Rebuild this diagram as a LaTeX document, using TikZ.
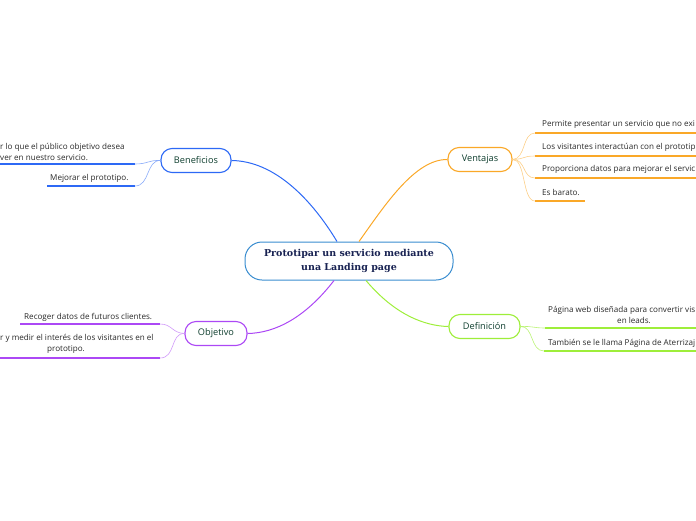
\documentclass[tikz,border=0pt]{standalone}
\usepackage{fontspec}
\setmainfont{Open Sans}
\newfontfamily\titlefont{DejaVu Serif}
\usetikzlibrary{positioning}
\definecolor{centralblue}{RGB}{58,141,208}
\definecolor{titlenavy}{RGB}{24,34,82}
\definecolor{labelgreen}{RGB}{14,62,46}
\definecolor{benblue}{RGB}{45,105,245}
\definecolor{ventorange}{RGB}{250,168,40}
\definecolor{objpurple}{RGB}{172,72,245}
\definecolor{defgreen}{RGB}{158,238,58}
\definecolor{itemgray}{RGB}{40,40,40}

\begin{document}
\begin{tikzpicture}[x=1pt, y=-1pt, font=\fontsize{8.1}{11}\selectfont]
\tikzstyle{topic}=[rounded corners=11pt, draw, line width=1.1pt, fill=white, minimum height=24pt, text=labelgreen, font=\fontsize{9.2}{11}\selectfont]
\tikzstyle{item}=[anchor=west, inner sep=0pt, text=itemgray, align=left]
\tikzstyle{branch}=[line width=1pt]
\tikzstyle{twig}=[line width=0.6pt]
\tikzstyle{rule}=[line width=1.6pt]
\useasboundingbox (0,0) rectangle (696,520);
\clip (0,0) rectangle (696,520);
% central topic
\node[rounded corners=17pt, draw=centralblue, line width=1pt, fill=white, minimum width=208pt, minimum height=38pt, align=center, text=titlenavy, font=\titlefont\bfseries\fontsize{9.5}{14}\selectfont] (main) at (349,261) {Prototipar un servicio mediante\\una Landing page};
% main topics
\node[topic, draw=benblue, minimum width=70pt] (ben) at (196,160.5) {Beneficios};
\node[topic, draw=ventorange, minimum width=64pt] (vent) at (480,159.5) {Ventajas};
\node[topic, draw=objpurple, minimum width=62pt] (obj) at (216,333.5) {Objetivo};
\node[topic, draw=defgreen, minimum width=71pt] (def) at (484.5,326.5) {Definición};
\draw[branch, benblue] (main.north west -| 337,0) .. controls (312,200) and (275,161) .. (ben.east);
\draw[branch, ventorange] (main.north west -| 359,0) .. controls (385,205) and (415,159) .. (vent.west);
\draw[branch, objpurple] (main.south west -| 334,0) .. controls (305,318) and (275,333) .. (obj.east);
\draw[branch, defgreen] (main.south west -| 366,0) .. controls (395,315) and (425,326) .. (def.west);
% Beneficios
\node[item] (ben1) at (0,152) {r lo que el público objetivo desea\\ver en nuestro servicio.};
\node[item] (ben2) at (50,178) {Mejorar el prototipo.};
\coordinate (ben1a) at (0,164);
\coordinate (ben1b) at (135,164);
\coordinate (ben2a) at (47,186);
\coordinate (ben2b) at (135,186);
\draw[rule, benblue] (ben1a) -- (ben1b);
\draw[rule, benblue] (ben2a) -- (ben2b);
\draw[twig, benblue!55] (ben.west) .. controls (148,160) and (148,164) .. (ben1b);
\draw[twig, benblue!55] (ben.west) .. controls (146,160) and (150,186) .. (ben2b);
% Ventajas
\node[item] (vent1) at (542,124) {Permite presentar un servicio que no exi};
\node[item] (vent2) at (542,147) {Los visitantes interactúan con el prototip};
\node[item] (vent3) at (542,169) {Proporciona datos para mejorar el servic};
\node[item] (vent4) at (542,192) {Es barato.};
\foreach \i/\y/\e in {1/133/696,2/156/696,3/178/696,4/201/585}{
  \coordinate (vent\i a) at (535,\y);
  \coordinate (vent\i b) at (\e,\y);
  \draw[rule, ventorange] (vent\i a) -- (vent\i b);
  \draw[twig, ventorange!55] (vent.east) .. controls (526,159) and (522,\y) .. (vent\i a);
}
% Objetivo
\node[item] (obj1) at (24,317) {Recoger datos de futuros clientes.};
\node[item] (obj2) at (0,343.5) {r y medir el interés de los visitantes en el\\\hspace*{47pt}prototipo.};
\coordinate (obj1a) at (20,324);
\coordinate (obj1b) at (160,324);
\coordinate (obj2a) at (0,358);
\coordinate (obj2b) at (160,358);
\draw[rule, objpurple] (obj1a) -- (obj1b);
\draw[rule, objpurple] (obj2a) -- (obj2b);
\draw[twig, objpurple!55] (obj.west) .. controls (172,333) and (172,324) .. (obj1b);
\draw[twig, objpurple!55] (obj.west) .. controls (170,333) and (176,358) .. (obj2b);
% Definición
\node[item] (def1) at (548,315) {Página web diseñada para convertir vis\\\hspace*{69pt}en leads.};
\node[item] (def2) at (548,343) {También se le llama Página de Aterrizaj};
\coordinate (def1a) at (545,328);
\coordinate (def1b) at (696,328);
\coordinate (def2a) at (544,351);
\coordinate (def2b) at (696,351);
\draw[rule, defgreen] (def1a) -- (def1b);
\draw[rule, defgreen] (def2a) -- (def2b);
\draw[twig, defgreen!70] (def.east) .. controls (533,326) and (533,328) .. (def1a);
\draw[twig, defgreen!70] (def.east) .. controls (534,326) and (530,351) .. (def2a);
\end{tikzpicture}
\end{document}
